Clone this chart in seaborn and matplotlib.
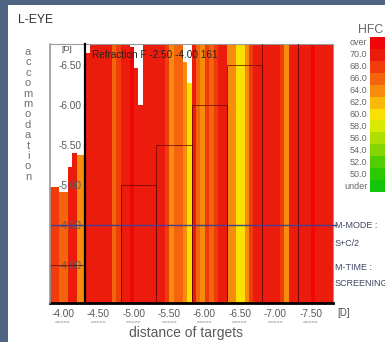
import numpy as np
import pandas as pd
import matplotlib
matplotlib.use("Agg")
import matplotlib.pyplot as plt
import matplotlib.transforms as mtrans
from matplotlib.colors import ListedColormap, Normalize
from matplotlib.patches import Rectangle
import seaborn as sns

# distance of targets [D], eight samples are shown per target
targets = [-4.00, -4.50, -5.00, -5.50, -6.00, -6.50, -7.00, -7.50]
target_labels = ["-4.00", "-4.50", "-5.00", "-5.50", "-6.00", "-6.50", "-7.00", "-7.50"]

# accommodation axis ticks [D]
acc_ticks = [-6.50, -6.00, -5.50, -5.00, -4.50, -4.00]

# HFC value of every sample (8 per target)
hfc_values = [
    69, 69, 67, 67, 71, 71, 65, 65,
    71, 71, 71, 71, 71, 71, 67, 69,
    71, 71, 73, 71, 71, 71, 71, 71,
    71, 71, 69, 65, 67, 67, 65, 61,
    71, 67, 65, 69, 67, 69, 71, 71,
    65, 65, 61, 61, 65, 69, 71, 71,
    71, 71, 71, 71, 69, 65, 71, 71,
    71, 71, 71, 73, 71, 71, 71, 71,
]

# accommodation reached by every sample [D]
acc_tops = [
    -4.97, -4.97, -4.91, -4.91, -5.22, -5.40, -5.38, -5.38,
    -6.65, -7.00, -7.00, -7.00, -7.00, -7.00, -7.00, -7.00,
    -7.00, -7.00, -6.72, -6.46, -6.00, -7.00, -7.00, -7.00,
    -7.00, -7.00, -7.00, -7.00, -7.00, -7.00, -6.54, -6.27,
    -7.00, -7.00, -7.00, -7.00, -7.00, -7.00, -7.00, -7.00,
    -7.00, -7.00, -7.00, -7.00, -7.00, -7.00, -7.00, -7.00,
    -7.00, -7.00, -7.00, -7.00, -7.00, -7.00, -7.00, -7.00,
    -7.00, -7.00, -7.00, -7.00, -7.00, -7.00, -7.00, -7.00,
]

# refraction: sphere, cylinder, axis
sph, cyl, cyl_axis = -2.50, -4.00, 161

# HFC colour scale, bottom (under) to top (over)
hfc_labels = ["under", "50.0", "52.0", "54.0", "56.0", "58.0", "60.0",
              "62.0", "64.0", "66.0", "68.0", "70.0", "over"]
hfc_colors = ["#12c40c", "#2cc800", "#52cd00", "#84d600", "#addf00", "#d8ea00", "#fae000",
              "#fab90a", "#f78c0c", "#f4640c", "#f03c0a", "#ec1c0c", "#f00606"]
hfc_min, hfc_step = 48, 2

n_per = 8
cmap = ListedColormap(hfc_colors)
norm = Normalize(hfc_min, hfc_min + hfc_step * len(hfc_colors))

sns.set_style("white")
plt.rcParams["font.family"] = ["Liberation Sans", "DejaVu Sans"]

fig = plt.figure(figsize=(3.85, 3.42), dpi=100)
fig.patch.set_facecolor("#4e6482")
fig.add_artist(Rectangle((8 / 385, 0), 1, 1 - 5 / 342, transform=fig.transFigure,
                         facecolor="white", edgecolor="none", zorder=0))

ax = fig.add_axes([50 / 385, 39 / 342, 283 / 385, 259 / 342])
ax.set_facecolor("white")

df = pd.DataFrame({
    "sample": np.arange(len(acc_tops)),
    "top": acc_tops,
    "hfc": hfc_values,
})
df["sid"] = ["s%d" % i for i in df["sample"]]
palette = {s: cmap(norm(v)) for s, v in zip(df["sid"], df["hfc"])}

sns.barplot(data=df, x="sample", y="top", hue="sid", palette=palette, width=1,
            saturation=1, errorbar=None, legend=False, linewidth=0, orient="x", ax=ax)

y_bottom, y_top = -3.525, -6.7625
n = len(acc_tops)
ax.set_xlim(-0.5, n - 0.5)
ax.set_ylim(y_bottom, y_top)
ax.set_xlabel("")
ax.set_ylabel("")
ax.set_axisbelow(False)

# target steps
for c, t in enumerate(targets):
    x0, x1 = c * n_per - 0.5, (c + 1) * n_per - 0.5
    ax.plot([x0, x0, x1, x1], [y_bottom, t, t, y_bottom], color="#6a0000", lw=0.6,
            alpha=0.85, zorder=3)

# S+C/2 line
m_value = sph + cyl / 2
trans = mtrans.blended_transform_factory(ax.transAxes, ax.transData)
ax.plot([0, 1.01], [m_value, m_value], transform=trans, color="#473d8f", lw=1.0,
        clip_on=False, zorder=4)

# axes and ticks
ax.spines["left"].set_position(("data", n_per - 0.5))
ax.spines["left"].set_linewidth(1.6)
ax.spines["left"].set_color("black")
ax.spines["left"].set_zorder(5)
ax.spines["bottom"].set_linewidth(2)
ax.spines["bottom"].set_color("black")
for side in ["top", "right"]:
    ax.spines[side].set_visible(True)
    ax.spines[side].set_linewidth(0.8)
    ax.spines[side].set_color("#9a9a9a")
ax.axvline(-0.5, color="#9a9a9a", lw=1.2, clip_on=False, zorder=5)

ax.set_yticks(acc_ticks)
ax.set_yticklabels(["%.2f" % v for v in acc_ticks])
ax.tick_params(axis="y", direction="in", length=6, width=1.5, color="black",
               labelsize=7.3, labelcolor="#5a5a5a", pad=3)

tick_pos = [c * n_per + 2.44 for c in range(len(targets))]
ax.set_xticks(tick_pos)
ax.set_xticklabels(target_labels)
ax.set_xticks(np.arange(-0.5, n, n_per), minor=True)
ax.tick_params(axis="x", which="major", length=0, labelsize=7.3, labelcolor="#5a5a5a", pad=4)
ax.tick_params(axis="x", which="minor", direction="in", length=4, width=2, color="black")

xtrans = mtrans.blended_transform_factory(ax.transData, ax.transAxes)
for p in tick_pos:
    ax.text(p, -0.078, "=====", transform=xtrans, ha="center", va="center",
            fontsize=3.8, color="#808080")

ax.text(0.06, 0.978, "[D]", transform=ax.transAxes, ha="center", va="center",
        fontsize=6, color="#444444")
ax.text(0.15, 0.958, "Refraction F %.2f %.2f %d" % (sph, cyl, cyl_axis),
        transform=ax.transAxes, ha="left", va="center", fontsize=7.2, color="#222222", zorder=6)

# outer texts
fig.text(18 / 385, 1 - 20 / 342, "L-EYE", fontsize=8.7, color="#333333", va="center")
word = "accommodation"
for i, ch in enumerate(word):
    fig.text(28 / 385, 1 - (52 + i * 10.4) / 342, ch, fontsize=8, color="#707070",
             ha="center", va="center")
fig.text(186 / 385, 1 - 333 / 342, "distance of targets", fontsize=10, color="#5a5a5a",
         ha="center", va="center")
fig.text(337 / 385, 1 - 313 / 342, "[D]", fontsize=7, color="#555555", va="center")

for txt, yy in [("M-MODE :", 226), ("S+C/2", 243), ("M-TIME :", 267), ("SCREENING", 283)]:
    fig.text(335 / 385, 1 - yy / 342, txt, fontsize=6.5, color="#3f4660", va="center")

# HFC legend
fig.text(358 / 385, 1 - 30 / 342, "HFC", fontsize=8.8, color="#666666", va="center")
cax = fig.add_axes([370 / 385, 1 - 192 / 342, 25 / 385, 155 / 342])
levels = [hfc_min + hfc_step * (k + 0.5) for k in range(len(hfc_colors))][::-1]
sns.heatmap(np.array(levels).reshape(-1, 1), cmap=cmap, vmin=norm.vmin, vmax=norm.vmax,
            cbar=False, ax=cax, xticklabels=False, yticklabels=hfc_labels[::-1])
cax.tick_params(axis="y", length=0, labelsize=6.5, labelcolor="#666666", pad=2, rotation=0)

fig.savefig("out.png", dpi=100)
